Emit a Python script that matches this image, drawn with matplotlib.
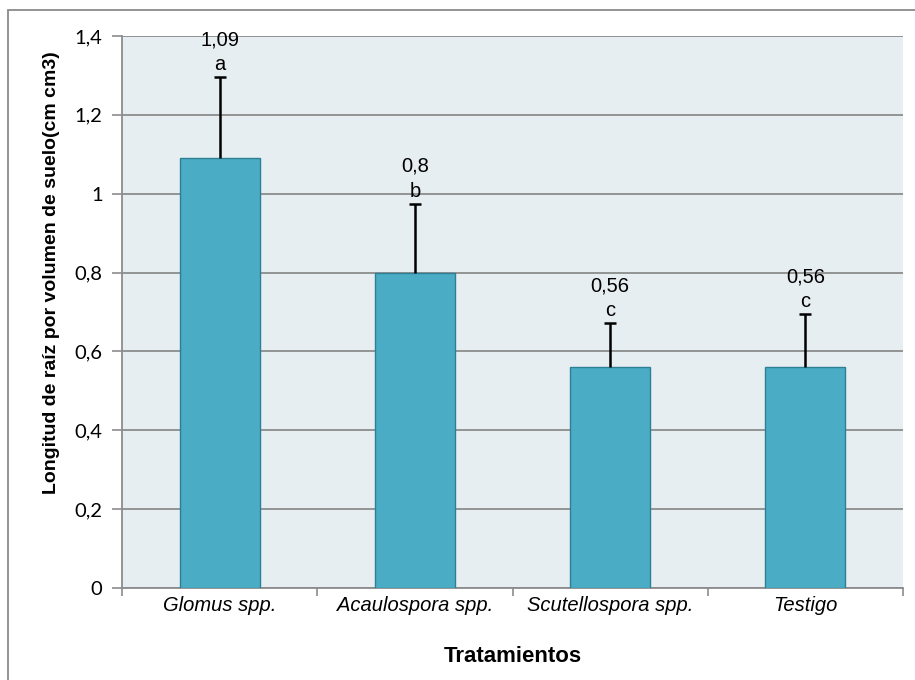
import matplotlib
matplotlib.use("Agg")
import matplotlib.pyplot as plt
from matplotlib.patches import Rectangle
from matplotlib.ticker import FuncFormatter

# Treatment data
categories = ["Glomus spp.", "Acaulospora spp.", "Scutellospora spp.", "Testigo"]
means = [1.09, 0.80, 0.56, 0.56]
errors = [0.206, 0.174, 0.111, 0.134]
value_labels = ["1,09", "0,8", "0,56", "0,56"]
letters = ["a", "b", "c", "c"]
y_ticks = [0, 0.2, 0.4, 0.6, 0.8, 1.0, 1.2, 1.4]

W, H = 915, 680
fig = plt.figure(figsize=(W / 100, H / 100), dpi=100)
fig.patch.set_facecolor("white")

# outer chart frame (left and top edges visible)
fig.add_artist(Rectangle((8 / W, -0.05), 1.2, 1 - 10 / H + 0.05,
                         transform=fig.transFigure, fill=False,
                         edgecolor="#8a8a8a", linewidth=1.3))

ax = fig.add_axes([122 / W, 92 / H, (903 - 122) / W, (588 - 36) / H])
ax.set_facecolor("#E7EEF2")

x = list(range(len(categories)))
ax.bar(x, means, width=0.41, color="#4BACC6", edgecolor="#2F7F94",
       linewidth=1.0, zorder=3)
# upward-only error bars
_, caps, _ = ax.errorbar(x, means, yerr=[[0] * len(errors), errors],
                         fmt="none", ecolor="black", elinewidth=1.8,
                         capsize=4, capthick=1.8, zorder=4)
caps[0].set_visible(False)

for xi, m, e, v, l in zip(x, means, errors, value_labels, letters):
    top = m + e
    ax.annotate(l, (xi, top), xytext=(0, 9), textcoords="offset points",
                ha="center", va="center", fontsize=14.5,
                family="Liberation Sans", zorder=5, annotation_clip=False)
    ax.annotate(v, (xi, top), xytext=(0, 27), textcoords="offset points",
                ha="center", va="center", fontsize=14.5,
                family="Liberation Sans", zorder=5, annotation_clip=False)

ax.set_ylim(0, 1.4)
ax.set_xlim(-0.5, 3.5)
ax.set_yticks(y_ticks)
ax.yaxis.set_major_formatter(
    FuncFormatter(lambda v, p: ("%g" % round(v, 1)).replace(".", ",")))
ax.grid(axis="y", color="#8c8c8c", linewidth=1.3, zorder=1)
ax.set_axisbelow(True)

ax.set_xticks(x)
ax.set_xticklabels(categories, fontsize=14.5, style="italic",
                   family="Liberation Sans")
ax.set_xticks([i - 0.5 for i in range(len(categories) + 1)], minor=True)
ax.tick_params(axis="x", which="major", length=0, pad=6)
ax.tick_params(axis="x", which="minor", length=6, color="#8c8c8c", width=1.2)
ax.tick_params(axis="y", length=7, color="#8c8c8c", width=1.2, pad=7,
               labelsize=14.5)
for t in ax.get_yticklabels():
    t.set_family("Lato")

for s in ["top", "right"]:
    ax.spines[s].set_visible(False)
for s in ["left", "bottom"]:
    ax.spines[s].set_color("#8c8c8c")
    ax.spines[s].set_linewidth(1.3)

ax.set_ylabel("Longitud de raíz por volumen de suelo(cm cm3)", fontsize=14,
              fontweight="bold", family="Liberation Sans")
ax.yaxis.set_label_coords(-62 / 781, 0.572)
ax.set_xlabel("Tratamientos", fontsize=16, fontweight="bold",
              family="Liberation Sans")
ax.xaxis.set_label_coords(0.5, -58 / 552)

fig.savefig("out.png", dpi=100)
